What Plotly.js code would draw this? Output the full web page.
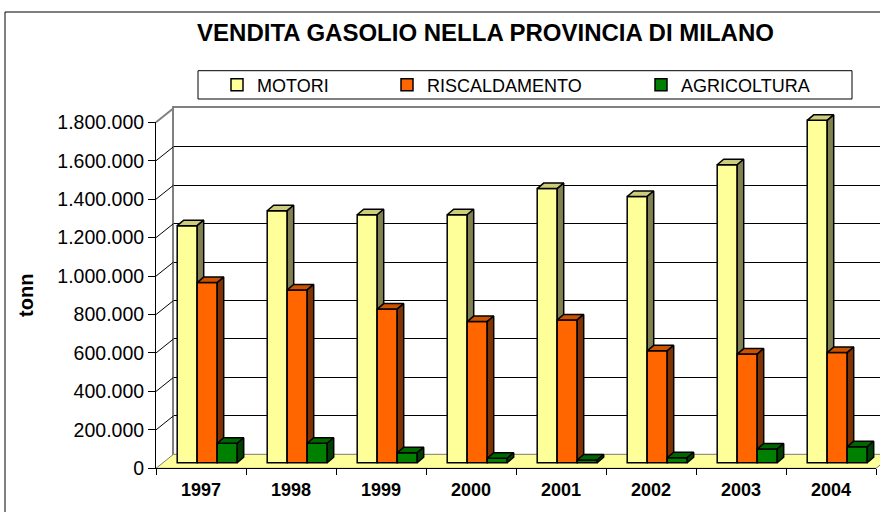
<!DOCTYPE html>
<html><head><meta charset="utf-8">
<script src="https://cdn.plot.ly/plotly-3.0.1.min.js"></script>
<style>html,body{margin:0;padding:0;background:#fff}#chart{width:880px;height:512px}</style>
</head><body><div id="chart"></div>
<script>
// ---- data ----
const years = [1997, 1998, 1999, 2000, 2001, 2002, 2003, 2004];
const motori = [1233000, 1311000, 1290000, 1290000, 1426000, 1385000, 1550000, 1781000];
const riscaldamento = [937000, 899000, 799000, 734000, 743000, 582000, 565000, 573000];
const agricoltura = [101000, 101000, 52000, 23000, 14000, 26000, 71000, 83000];
const tickValues = [0, 200000, 400000, 600000, 800000, 1000000, 1200000, 1400000, 1600000, 1800000];
const seriesNames = ['MOTORI', 'RISCALDAMENTO', 'AGRICOLTURA'];
const chartTitle = 'VENDITA GASOLIO NELLA PROVINCIA DI MILANO';
const yTitle = 'tonn';

// ---- styles / geometry (pixels) ----
const W = 880, H = 512;
const FX = 156, CW = 90, FY0 = 468.3, FYTOP = 122.3, VMAX = 1800000;
const WALL_DX = 17.5, WALL_DY = 14;
const BAR_DX = 6.2, BAR_DY = 5.6;
const DEP_DX = 6.5, DEP_DY = 5.5;
const BAR_W = 20, GROUP_HALF = 30;
const FONT = 'Liberation Sans, Arial, sans-serif';
const colors = [
  {front: '#FFFF99', top: '#CCCC7A', side: '#808050'},
  {front: '#FF6600', top: '#CC5200', side: '#803300'},
  {front: '#008000', top: '#006600', side: '#004000'}
];
const pxPerVal = (FY0 - FYTOP) / VMAX;
const firstEdge = years[0] - 0.5;
const yearAtPx = p => firstEdge + (p - FX) / CW;
const valAtPx = p => (FY0 - p) / pxPerVal;
const dX = px => px / CW;
const dV = px => px / pxPerVal;
const lastEdge = years[years.length - 1] + 0.5;

const seriesValues = [motori, riscaldamento, agricoltura];
const traces = [];

// wall subplot (xy): dummy trace
traces.push({type: 'scatter', x: [years[0]], y: [0], xaxis: 'x', yaxis: 'y', mode: 'markers',
  marker: {size: 1, opacity: 0}, hoverinfo: 'skip', showlegend: false});

// floor (x2y2)
traces.push({type: 'scatter', xaxis: 'x2', yaxis: 'y2', mode: 'lines', fill: 'toself',
  fillcolor: '#FFFF99', line: {color: '#808080', width: 1}, hoverinfo: 'skip', showlegend: false,
  x: [firstEdge, lastEdge, lastEdge + dX(WALL_DX), firstEdge + dX(WALL_DX), firstEdge],
  y: [0, 0, dV(WALL_DY), dV(WALL_DY), 0]});

// side-wall gridlines (diagonals from ticks)
const dgx = [], dgy = [];
tickValues.slice(1, -1).forEach(t => { dgx.push(firstEdge, firstEdge + dX(WALL_DX), null); dgy.push(t, t + dV(WALL_DY), null); });
traces.push({type: 'scatter', xaxis: 'x2', yaxis: 'y2', mode: 'lines', x: dgx, y: dgy,
  line: {color: '#000', width: 1}, hoverinfo: 'skip', showlegend: false});
const tmax = tickValues[tickValues.length - 1];
traces.push({type: 'scatter', xaxis: 'x2', yaxis: 'y2', mode: 'lines',
  x: [firstEdge, firstEdge + dX(WALL_DX)], y: [tmax, tmax + dV(WALL_DY)],
  line: {color: '#808080', width: 2}, hoverinfo: 'skip', showlegend: false});

// bars
const legendIds = ['legend', 'legend2', 'legend3'];
seriesValues.forEach((vals, s) => {
  const ax = 3 + s;
  const offPx = -GROUP_HALF + BAR_DX + s * BAR_W;
  const base = dV(BAR_DY);
  traces.push({type: 'bar', name: seriesNames[s], x: years, y: vals, base: base,
    offset: dX(offPx), width: dX(BAR_W), xaxis: 'x' + ax, yaxis: 'y' + ax,
    legend: legendIds[s],
    marker: {color: colors[s].front, line: {color: '#000', width: 1.5}}, hoverinfo: 'skip'});
  const tx = [], ty = [], sx = [], sy = [];
  years.forEach((yr, i) => {
    const xl = yr + dX(offPx), xr = xl + dX(BAR_W);
    const top = base + vals[i];
    const ddx = dX(DEP_DX), ddv = dV(DEP_DY);
    tx.push(xl, xr, xr + ddx, xl + ddx, xl, null);
    ty.push(top, top, top + ddv, top + ddv, top, null);
    sx.push(xr, xr, xr + ddx, xr + ddx, xr, null);
    sy.push(base, top, top + ddv, base + ddv, base, null);
  });
  traces.push({type: 'scatter', mode: 'lines', fill: 'toself', x: tx, y: ty, xaxis: 'x' + ax, yaxis: 'y' + ax,
    fillcolor: colors[s].top, line: {color: '#000', width: 1.5}, hoverinfo: 'skip', showlegend: false});
  traces.push({type: 'scatter', mode: 'lines', fill: 'toself', x: sx, y: sy, xaxis: 'x' + ax, yaxis: 'y' + ax,
    fillcolor: colors[s].side, line: {color: '#000', width: 1.5}, hoverinfo: 'skip', showlegend: false});
});

// front axis subplot (x6y6)
traces.push({type: 'scatter', x: years.map(String), y: years.map(() => 0), xaxis: 'x6', yaxis: 'y6',
  mode: 'markers', marker: {size: 1, opacity: 0}, hoverinfo: 'skip', showlegend: false});

const hidden = {visible: false, fixedrange: true};
const frameX = [yearAtPx(0), yearAtPx(W)];
const frameY = [valAtPx(H), valAtPx(0)];

const layout = {
  width: W, height: H, margin: {l: 0, r: 0, t: 0, b: 0, pad: 0},
  paper_bgcolor: '#ffffff', plot_bgcolor: 'rgba(0,0,0,0)',
  separators: ',.', barmode: 'overlay', hovermode: false,
  font: {family: FONT, color: '#000'},
  title: {text: chartTitle, x: 485.5 / W, xanchor: 'center', y: 1 - 33 / H, yanchor: 'middle',
    font: {family: FONT, size: 24, weight: 700, color: '#000'}},
  xaxis: {domain: [(FX + WALL_DX) / W, 1], range: [firstEdge, firstEdge + (W - FX - WALL_DX) / CW],
    anchor: 'y', showline: true, mirror: true, linecolor: '#808080', linewidth: 2,
    showgrid: false, zeroline: false, showticklabels: false, ticks: '', fixedrange: true},
  yaxis: {domain: [(H - (FY0 - WALL_DY)) / H, (H - (FYTOP - WALL_DY)) / H], range: [0, VMAX],
    anchor: 'x', tickvals: tickValues, showticklabels: false, ticks: '', showgrid: true,
    gridcolor: '#000', gridwidth: 1, showline: true, linecolor: '#808080', linewidth: 2,
    zeroline: false, fixedrange: true},
  xaxis2: Object.assign({domain: [0, 1], range: frameX, anchor: 'y2'}, hidden),
  yaxis2: Object.assign({domain: [0, 1], range: frameY, anchor: 'x2'}, hidden),
  xaxis6: {domain: [FX / W, (FX + years.length * CW) / W], type: 'category', range: [-0.5, years.length - 0.5],
    anchor: 'y6', showline: true, linecolor: '#000', linewidth: 1, ticks: 'outside', ticklen: 6,
    tickcolor: '#000', tickson: 'boundaries', ticklabelstandoff: 5,
    tickfont: {family: FONT, size: 18, weight: 700, color: '#000'},
    showgrid: false, zeroline: false, fixedrange: true},
  yaxis6: {domain: [(H - FY0) / H, (H - FYTOP) / H], range: [0, VMAX], anchor: 'x6',
    showline: true, linecolor: '#000', linewidth: 1, ticks: 'outside', ticklen: 7, tickcolor: '#000',
    tickvals: tickValues, tickformat: ',d', tickfont: {family: FONT, size: 19.5, color: '#000'},
    showgrid: false, zeroline: false, fixedrange: true,
    title: {text: yTitle, standoff: 18, font: {family: FONT, size: 20, weight: 700, color: '#000'}}},
  shapes: [
    {type: 'rect', xref: 'paper', yref: 'paper', x0: 5 / W, x1: 1.05, y0: -0.05, y1: 1 - 12 / H,
      line: {color: '#000', width: 1}, fillcolor: 'rgba(0,0,0,0)', layer: 'above'},
    {type: 'rect', xref: 'paper', yref: 'paper', x0: 198 / W, x1: 852 / W, y0: 1 - 99 / H, y1: 1 - 70.7 / H,
      line: {color: '#000', width: 1}, fillcolor: 'rgba(0,0,0,0)', layer: 'above'}
  ]
};
[3, 4, 5].forEach(k => {
  layout['xaxis' + k] = Object.assign({range: frameX, overlaying: 'x2', anchor: 'y' + k}, hidden);
  layout['yaxis' + k] = Object.assign({range: frameY, overlaying: 'y2', anchor: 'x' + k}, hidden);
});
const legStarts = [257, 427, 681];
legendIds.forEach((id, s) => {
  layout[id] = {x: (legStarts[s] - 40) / W, xanchor: 'left', y: 1 - 85 / H, yanchor: 'middle',
    orientation: 'h', bgcolor: 'rgba(0,0,0,0)', borderwidth: 0,
    font: {family: FONT, size: 18, color: '#000'}};
});

Plotly.newPlot('chart', traces, layout, {staticPlot: true, displayModeBar: false});
</script>
</body></html>
